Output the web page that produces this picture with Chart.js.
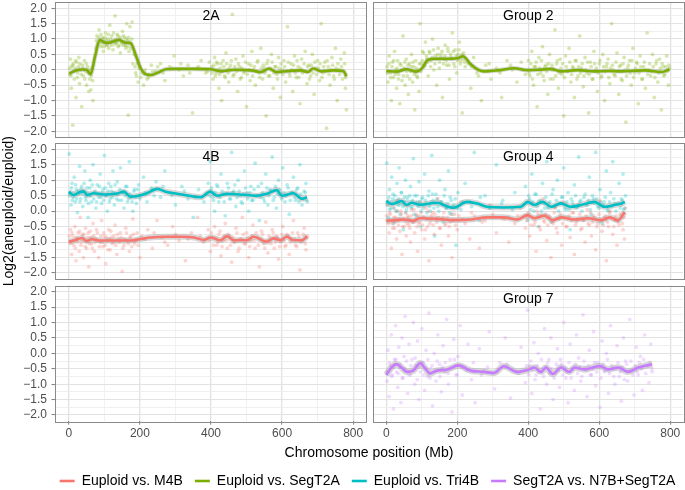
<!DOCTYPE html>
<html><head><meta charset="utf-8">
<script src="https://cdn.jsdelivr.net/npm/chart.js@4.4.1/dist/chart.umd.min.js"></script>
<style>
html,body{margin:0;padding:0;background:#fff;overflow:hidden;width:685px;height:490px;}
canvas{position:absolute;left:0;top:0;width:685px;height:490px;}
</style></head><body>
<canvas id="p1" width="685" height="490"></canvas>
<canvas id="p2" width="685" height="490"></canvas>
<canvas id="p3" width="685" height="490"></canvas>
<canvas id="p4" width="685" height="490"></canvas>
<canvas id="p5" width="685" height="490"></canvas>
<canvas id="p6" width="685" height="490"></canvas>
<canvas id="frame" width="685" height="490"></canvas>
<script>
// ---------- axis definitions ----------
const xMajor = [0, 200, 400, 600, 800];
const xMinor = [100, 300, 500, 700];
const yMajor = [-2, -1.5, -1, -0.5, 0, 0.5, 1, 1.5, 2];
const yMinor = [-1.75, -1.25, -0.75, -0.25, 0.25, 0.75, 1.25, 1.75];
const xLimits = [-39, 836];
const yLimits = [-2.2, 2.2];
const xTitle = 'Chromosome position (Mb)';
const yTitle = 'Log2(aneuploid/euploid)';
const seriesNames = ['Euploid vs. M4B', 'Euploid vs. SegT2A', 'Euploid vs. Tri4B', 'SegT2A vs. N7B+SegT2A'];
const panelLabels = ['2A', 'Group 2', '4B', 'Group 4', '', 'Group 7'];
const labelPos = [400, 1.75];

// ---------- smoothed lines ----------
const line2A_x = [1, 20, 37, 50, 61, 74, 87, 103, 117, 141, 160, 174, 188, 202, 216, 230, 249, 273, 300, 350, 400, 428, 466, 513, 541, 564, 583, 616, 654, 673, 687, 710, 743, 772, 781];
const line2A_y = [-0.12, -0.02, 0.01, 0.0, -0.14, 0.45, 0.97, 0.88, 0.89, 0.97, 0.88, 0.86, 0.48, 0.05, -0.14, -0.17, -0.1, 0.02, 0.03, 0.03, 0.02, -0.05, 0.0, -0.02, -0.07, 0.04, -0.07, -0.04, -0.02, -0.07, 0.04, -0.05, -0.02, -0.04, -0.21];

const lineG2_x = [0, 28, 57, 85, 99, 118, 142, 180, 203, 216, 237, 261, 275, 313, 360, 398, 430, 464, 492, 539, 587, 625, 663, 700, 729, 776, 798];
const lineG2_y = [-0.04, -0.06, 0.02, -0.06, 0.03, 0.33, 0.36, 0.36, 0.38, 0.44, 0.19, -0.01, -0.05, -0.02, 0.05, -0.01, 0.0, 0.03, -0.05, -0.01, -0.05, -0.04, -0.05, -0.03, -0.02, -0.07, 0.02];

const line4Bc_x = [0, 14, 28, 42, 51, 70, 98, 136, 155, 173, 192, 216, 249, 272, 305, 343, 371, 398, 417, 445, 480, 529, 557, 585, 599, 632, 656, 670];
const line4Bc_y = [0.62, 0.52, 0.6, 0.64, 0.52, 0.58, 0.54, 0.57, 0.63, 0.47, 0.49, 0.56, 0.72, 0.63, 0.56, 0.49, 0.45, 0.63, 0.5, 0.56, 0.54, 0.5, 0.56, 0.68, 0.5, 0.58, 0.4, 0.45];

const line4Br_x = [0, 14, 37, 51, 65, 89, 136, 173, 202, 230, 277, 324, 352, 381, 398, 426, 445, 464, 501, 520, 557, 576, 595, 613, 632, 656, 670];
const line4Br_y = [-0.99, -0.95, -0.87, -0.97, -0.91, -0.95, -0.95, -0.95, -0.9, -0.85, -0.83, -0.83, -0.85, -0.93, -0.85, -0.94, -0.81, -0.94, -0.94, -0.83, -0.99, -0.88, -0.94, -0.83, -0.94, -0.94, -0.81];

const lineG4c_x = [0, 14, 28, 43, 57, 71, 95, 142, 175, 189, 227, 256, 284, 331, 379, 398, 417, 441, 464, 492, 520, 549, 587, 615, 643, 663, 672];
const lineG4c_y = [0.33, 0.23, 0.27, 0.33, 0.2, 0.27, 0.21, 0.27, 0.14, 0.11, 0.3, 0.25, 0.14, 0.12, 0.14, 0.3, 0.2, 0.3, 0.14, 0.25, 0.14, 0.2, 0.3, 0.14, 0.2, 0.25, 0.3];

const lineG4r_x = [0, 28, 48, 76, 95, 142, 189, 237, 284, 331, 369, 398, 417, 445, 469, 492, 530, 568, 606, 630, 653, 672];
const lineG4r_y = [-0.31, -0.29, -0.27, -0.31, -0.23, -0.25, -0.29, -0.27, -0.2, -0.2, -0.27, -0.13, -0.23, -0.15, -0.29, -0.2, -0.27, -0.23, -0.29, -0.2, -0.29, -0.03];

const lineG7_x = [0, 14, 28, 43, 57, 76, 95, 109, 123, 142, 170, 203, 237, 275, 303, 331, 369, 398, 417, 436, 450, 469, 492, 516, 530, 558, 601, 625, 653, 681, 710, 749];
const lineG7_y = [-0.7, -0.46, -0.35, -0.46, -0.6, -0.56, -0.32, -0.48, -0.65, -0.56, -0.53, -0.39, -0.56, -0.6, -0.64, -0.42, -0.6, -0.54, -0.46, -0.6, -0.46, -0.67, -0.46, -0.6, -0.46, -0.52, -0.41, -0.52, -0.46, -0.6, -0.46, -0.35];

// ---------- point clouds [position, log2 ratio]: scattered + dense core ----------
const cloud2A = [[3,-0.15],[5,0.35],[7,-0.6],[9,0.1],[11,-1.8],[13,0.2],[15,-0.3],[18,0.05],[20,-0.9],[22,0.25],[25,-0.1],[28,0.4],[30,-0.45],[33,0.0],[36,-1.2],[38,0.15],[41,-0.2],[44,0.3],[47,-0.05],[50,-0.5],[53,0.1],[56,-0.7],[59,-0.3],[62,-0.65],[65,0.05],[68,-1.0],
[76,0.7],[79,1.1],[82,0.85],[85,1.3],[88,0.95],[91,0.75],[94,1.05],[97,0.6],[100,0.9],[103,1.2],[106,0.8],[109,1.0],[112,0.7],[115,1.45],[118,0.9],[121,1.1],[124,0.65],[127,0.95],[130,1.75],[133,0.85],[136,1.15],[139,0.75],[142,1.0],[145,0.55],[148,0.9],[151,1.25],[154,0.8],[157,1.05],[160,0.7],[163,1.5],[166,0.95],[167,-1.47],[169,0.6],[172,1.4],[175,0.85],[178,1.55],[180,0.2],
[184,0.5],[188,-0.1],[192,0.2],[195,-0.4],[198,0.05],[202,-0.25],[206,-0.1],[210,-0.5],[215,0.0],[220,-0.3],[226,-0.15],[232,0.15],
[245,-0.05],[258,0.2],[270,-0.35],[283,0.1],[296,0.45],[310,0.0],[322,-0.2],[335,0.15],[348,-1.4],[360,0.05],[372,0.3],[385,-0.1],[395,0.25],
[402,0.1],[406,-0.3],[410,0.4],[414,-0.1],[418,0.2],[422,-0.6],[426,0.05],[430,-1.0],[434,0.3],[438,-0.2],[442,0.55],[446,0.0],[450,-0.4],[455,0.15],[460,1.8],[465,-0.15],[470,0.35],[475,-0.7],[480,0.1],[485,-0.25],[490,0.45],[495,-0.05],[500,-1.2],[505,0.2],[510,-0.35],[515,0.6],[520,0.0],[525,-0.5],[530,0.25],[535,-0.1],[540,0.7],[545,-0.3],[550,0.05],[555,-1.5],[560,0.3],[565,-0.2],[570,0.5],[575,-0.6],[580,0.1],[585,-0.15],[590,0.4],[595,-0.9],[600,0.0],[605,0.3],[610,-0.4],[615,1.4],[620,-0.1],[625,0.2],[630,-0.7],[635,0.45],[640,-0.25],[645,0.1],[650,-1.1],[655,0.35],[660,-0.05],[665,0.6],[670,-0.45],[675,0.15],[680,-0.2],[685,0.5],[690,-0.8],[695,0.05],[700,0.3],[705,-0.35],[710,1.5],[715,-0.1],[720,0.25],[725,-1.9],[730,0.1],[735,-0.5],[740,0.4],[745,-0.2],[750,0.7],[755,-1.0],[760,0.0],[765,0.35],[770,-0.3],[775,0.55],[778,-0.6],[781,-1.3]];
const core2A = [[2,0.05],[6,-0.2],[10,0.15],[14,-0.05],[19,0.3],[24,-0.25],[27,0.1],[31,0.2],[35,-0.15],[40,0.05],[45,-0.3],[49,0.2],[54,-0.1],[58,0.0],[63,-0.2],[67,-0.35],
[77,0.95],[80,0.8],[84,1.05],[87,0.9],[90,1.15],[93,0.85],[96,1.0],[99,0.75],[102,1.05],[105,0.95],[108,0.8],[111,1.15],[114,0.9],[117,1.0],[120,0.8],[123,0.95],[126,1.2],[129,0.85],[132,1.0],[135,0.9],[138,1.1],[141,0.8],[144,1.05],[147,0.95],[150,0.85],[153,1.1],[156,0.9],[159,0.8],[162,1.0],[165,0.75],[168,1.05],[171,0.9],[174,0.7],[177,1.0],
[186,0.1],[190,-0.2],[200,0.1],[212,-0.15],[224,-0.25],[236,-0.05],
[250,0.1],[265,-0.1],[290,0.05],[315,0.2],[340,-0.1],[365,0.1],[390,-0.05],
[403,-0.1],[408,0.15],[412,-0.2],[416,0.25],[420,0.0],[424,-0.15],[428,0.2],[432,-0.05],[436,0.1],[440,-0.25],[444,0.2],[448,-0.1],[452,0.05],[457,0.3],[462,-0.2],[467,0.1],[472,-0.05],[477,0.2],[482,-0.3],[487,0.05],[492,-0.1],[497,0.25],[502,-0.15],[507,0.0],[512,0.15],[517,-0.2],[522,0.1],[527,-0.05],[532,0.3],[537,-0.25],[542,0.05],[547,0.15],[552,-0.1],[557,0.2],[562,-0.2],[567,0.0],[572,0.25],[577,-0.1],[582,0.1],[587,-0.3],[592,0.05],[597,0.2],[602,-0.15],[607,0.1],[612,-0.05],[617,0.25],[622,-0.2],[627,0.0],[632,0.15],[637,-0.1],[642,0.3],[647,-0.25],[652,0.05],[657,-0.1],[662,0.2],[667,-0.05],[672,0.1],[677,-0.3],[682,0.15],[687,-0.1],[692,0.25],[697,-0.15],[702,0.05],[707,0.2],[712,-0.25],[717,0.1],[722,-0.05],[727,0.3],[732,-0.15],[737,0.0],[742,0.15],[747,-0.3],[752,0.05],[757,0.2],[762,-0.15],[767,0.1],[772,-0.05],[776,0.2],[779,-0.25]];

const cloudG2 = [[2,0.1],[5,-0.4],[8,0.45],[11,-0.1],[14,-1.0],[17,0.25],[20,-0.25],[23,0.6],[26,0.0],[29,-0.6],[32,0.3],[35,-0.15],[38,-1.1],[41,0.15],[44,-0.35],[47,1.1],[50,0.05],[53,-0.5],[56,0.35],[59,-0.2],[62,-0.8],[65,0.2],[68,-0.05],[71,0.5],[74,-0.4],[77,0.1],[80,-1.3],[83,0.3],[86,-0.2],[89,0.0],[92,-0.7],[95,1.5],[98,0.2],
[102,0.6],[106,0.1],[110,0.9],[114,0.35],[118,-0.2],[122,0.55],[126,0.3],[130,1.0],[134,0.0],[138,0.45],[142,-0.5],[146,0.7],[150,0.25],[154,0.5],[158,-0.9],[162,0.35],[166,0.8],[170,0.15],[174,0.6],[178,-0.3],[182,0.4],[186,1.2],[190,0.2],[194,0.65],[198,-0.1],[202,0.5],[206,0.9],[210,0.3],[214,-1.4],[218,0.55],[222,0.1],
[230,0.2],[238,-0.6],[246,0.4],[255,-0.1],[268,-1.0],[280,0.15],[295,-0.3],[310,0.05],[325,-0.9],[340,0.3],[355,0.0],[368,-0.4],[380,0.25],[392,-0.15],
[400,0.3],[405,-0.2],[410,0.6],[415,-0.5],[420,0.1],[425,-1.2],[430,0.4],[435,-0.1],[440,0.75],[445,-0.35],[450,0.15],[455,-0.8],[460,0.5],[465,0.0],[470,-0.3],[475,1.3],[480,0.2],[485,-0.6],[490,0.35],[495,-0.15],[500,-1.5],[505,0.45],[510,-0.05],[515,0.7],[520,-0.4],[525,0.1],[530,-0.9],[535,0.3],[540,-0.2],[545,1.1],[550,0.05],[555,-0.55],[560,0.4],[565,-0.1],[570,-1.4],[575,0.25],[580,-0.3],[585,0.6],[590,-0.05],[595,-0.7],[600,0.2],[605,-0.25],[610,0.5],[615,-1.0],[620,0.1],[625,0.35],[630,-0.45],[635,1.5],[640,0.0],[645,-0.2],[650,0.55],[655,-0.8],[660,0.15],[665,-0.35],[670,0.4],[675,-1.7],[680,0.05],[685,0.3],[690,-0.5],[695,0.7],[700,-0.1],[705,0.25],[710,-1.1],[715,0.45],[720,-0.3],[725,0.1],[730,-0.6],[735,1.2],[740,0.0],[745,-0.2],[750,0.5],[755,-0.9],[760,0.2],[765,-0.4],[770,0.35],[775,-1.3],[780,0.1],[785,-0.15],[790,0.45],[795,-0.5],[798,0.05]];
const coreG2 = [[3,-0.1],[7,0.2],[12,-0.25],[16,0.1],[21,0.3],[25,-0.15],[30,0.05],[34,-0.3],[39,0.2],[43,0.0],[48,-0.2],[52,0.25],[57,-0.05],[61,0.15],[66,-0.3],[70,0.1],[75,0.25],[79,-0.15],[84,0.05],[88,-0.25],[93,0.2],[97,-0.05],
[101,0.3],[105,0.55],[109,0.15],[113,0.45],[117,0.25],[121,0.6],[125,0.1],[129,0.4],[133,0.65],[137,0.2],[141,0.35],[145,0.5],[149,0.05],[153,0.4],[157,0.6],[161,0.2],[165,0.45],[169,0.3],[173,0.7],[177,0.15],[181,0.5],[185,0.35],[189,0.6],[193,0.1],[197,0.45],[201,0.3],[205,0.65],[209,0.2],[213,0.5],[217,0.35],[221,0.25],
[240,0.1],[260,-0.2],[290,0.2],[320,-0.1],[350,0.15],[385,0.0],
[402,-0.1],[407,0.2],[412,-0.3],[417,0.1],[422,0.25],[427,-0.15],[432,0.05],[437,0.3],[442,-0.2],[447,0.1],[452,-0.05],[457,0.2],[462,-0.3],[467,0.15],[472,0.0],[477,-0.2],[482,0.3],[487,-0.1],[492,0.05],[497,0.2],[502,-0.25],[507,0.1],[512,-0.05],[517,0.25],[522,-0.15],[527,0.05],[532,0.3],[537,-0.3],[542,0.1],[547,-0.1],[552,0.2],[557,-0.2],[562,0.0],[567,0.25],[572,-0.15],[577,0.1],[582,-0.3],[587,0.2],[592,0.05],[597,-0.1],[602,0.3],[607,-0.2],[612,0.1],[617,-0.05],[622,0.2],[627,-0.25],[632,0.05],[637,0.15],[642,-0.15],[647,0.25],[652,-0.05],[657,0.1],[662,-0.3],[667,0.2],[672,0.0],[677,-0.2],[682,0.15],[687,-0.1],[692,0.3],[697,-0.25],[702,0.05],[707,0.2],[712,-0.1],[717,0.1],[722,-0.3],[727,0.25],[732,0.0],[737,-0.15],[742,0.2],[747,-0.05],[752,0.1],[757,-0.25],[762,0.3],[767,-0.1],[772,0.05],[777,0.2],[782,-0.2],[787,0.1],[792,-0.05],[796,0.15]];

const cloud4Bc = [[1,1.85],[3,0.6],[6,0.2],[9,0.9],[12,0.45],[15,1.1],[18,0.3],[21,0.7],[24,-0.05],[27,0.55],[30,1.45],[33,0.4],[36,0.8],[39,0.15],[42,0.65],[45,1.3],[48,0.35],[51,0.75],[54,-0.2],[57,0.5],[60,1.0],[64,0.3],[68,1.5],[72,0.6],[76,0.1],[80,0.85],[84,0.45],[88,1.2],[92,0.25],[96,0.7],[100,1.8],[104,0.5],[108,0.0],[112,0.9],[116,0.4],[120,0.65],[124,1.3],[128,0.2],[132,0.55],[136,0.95],[140,0.35],[145,1.4],[150,0.6],[155,0.1],[160,0.8],[165,0.3],[170,1.6],[175,0.45],[180,0.0],[185,0.7],[190,0.25],[196,0.85],[202,0.5],[210,1.1],[220,0.3],[232,0.75],[245,0.95],[258,0.45],[270,1.3],[285,0.6],[300,0.2],[318,0.8],[335,0.4],[350,-0.2],[365,0.7],[380,0.3],[392,0.9],[398,1.6],[404,0.45],[410,0.0],[416,0.85],[422,0.3],[428,1.2],[434,0.55],[440,-0.15],[446,0.9],[452,0.4],[458,1.9],[464,0.65],[470,0.15],[476,1.0],[482,0.5],[488,0.25],[494,1.3],[500,0.6],[506,0.0],[512,0.8],[518,0.35],[524,1.55],[530,0.5],[536,-0.3],[542,0.9],[548,0.4],[554,1.2],[560,0.2],[566,0.7],[572,1.75],[578,0.45],[584,0.1],[590,1.0],[596,0.55],[602,1.4],[608,0.3],[614,0.85],[620,-0.1],[626,0.6],[632,1.1],[638,0.35],[644,0.75],[650,1.5],[656,0.2],[662,0.65],[667,0.9],[671,0.3]];
const core4Bc = [[2,0.5],[7,0.75],[10,0.35],[14,0.6],[19,0.85],[22,0.4],[26,0.65],[31,0.3],[34,0.7],[38,0.55],[43,0.9],[47,0.45],[52,0.6],[55,0.25],[59,0.75],[62,0.5],[66,0.85],[70,0.4],[74,0.65],[78,0.3],[82,0.55],[86,0.8],[90,0.45],[94,0.6],[98,0.35],[102,0.75],[106,0.5],[110,0.65],[114,0.3],[118,0.8],[122,0.45],[126,0.6],[130,0.85],[134,0.4],[138,0.55],[143,0.7],[148,0.35],[153,0.6],[158,0.5],[163,0.8],[168,0.4],[173,0.55],[178,0.3],[183,0.65],[188,0.45],[194,0.7],[200,0.4],
[215,0.6],[240,0.5],[265,0.8],[290,0.5],[325,0.65],[355,0.45],[385,0.55],
[396,0.5],[401,0.75],[407,0.35],[413,0.6],[419,0.8],[425,0.45],[431,0.65],[437,0.3],[443,0.55],[449,0.75],[455,0.4],[461,0.6],[467,0.85],[473,0.45],[479,0.65],[485,0.3],[491,0.55],[497,0.75],[503,0.4],[509,0.6],[515,0.35],[521,0.7],[527,0.5],[533,0.8],[539,0.45],[545,0.6],[551,0.3],[557,0.75],[563,0.5],[569,0.65],[575,0.35],[581,0.8],[587,0.55],[593,0.7],[599,0.4],[605,0.6],[611,0.5],[617,0.75],[623,0.35],[629,0.6],[635,0.45],[641,0.7],[647,0.3],[653,0.55],[659,0.4],[665,0.6],[669,0.35]];

const cloud4Br = [[2,-1.0],[5,-0.6],[8,-1.4],[11,-0.8],[14,-1.1],[17,-0.5],[20,-1.6],[23,-0.9],[26,-0.7],[29,-1.3],[32,-0.2],[35,-1.0],[38,-0.75],[41,-1.5],[44,-0.95],[47,-0.55],[50,-1.2],[53,-0.85],[56,-1.8],[60,-0.65],[64,-1.05],[68,-0.4],[72,-1.3],[76,-0.9],[80,-0.7],[84,-1.5],[88,-1.0],[92,-0.3],[96,-1.15],[100,-0.8],[104,-1.7],[108,-0.95],[112,-0.6],[116,-1.25],[120,-0.85],[125,-1.0],[130,-0.45],[135,-1.4],[140,-0.9],[145,-0.7],[150,-1.95],[155,-1.1],[160,-0.55],[165,-0.95],[170,-1.3],[175,-0.8],[180,-0.25],[185,-1.05],[192,-0.7],[200,-1.5],[210,-0.9],[222,-0.6],[235,-1.2],[248,-0.3],[262,-0.85],[278,-1.1],[292,-0.5],[310,-0.95],[328,-1.6],[345,-0.7],[362,-0.2],[378,-1.0],[392,-0.6],[398,-1.3],[404,-0.85],[410,-0.5],[416,-1.1],[422,-0.75],[428,-1.45],[434,-0.95],[440,-0.4],[446,-1.2],[452,-0.8],[458,-1.65],[464,-1.0],[470,-0.55],[476,-1.3],[482,-0.9],[488,-0.2],[494,-1.05],[500,-0.7],[506,-1.5],[512,-0.95],[518,-0.45],[524,-1.2],[530,-0.85],[536,-1.8],[542,-0.65],[548,-1.05],[554,-0.35],[560,-1.35],[566,-0.9],[572,-0.6],[578,-1.2],[584,-0.8],[590,-1.55],[596,-1.0],[602,-0.5],[608,-1.15],[614,-0.75],[620,-1.4],[626,-0.9],[632,-0.3],[638,-1.1],[644,-0.7],[650,-1.9],[656,-0.95],[662,-0.55],[667,-1.25],[671,-0.8]];
const core4Br = [[1,-0.8],[6,-1.05],[9,-0.7],[13,-0.95],[18,-1.2],[21,-0.85],[25,-1.0],[30,-0.65],[34,-1.1],[37,-0.9],[42,-0.75],[46,-1.15],[51,-0.95],[54,-0.7],[58,-1.05],[62,-0.85],[66,-1.2],[70,-0.8],[74,-1.0],[78,-0.6],[82,-0.95],[86,-1.15],[90,-0.8],[94,-1.0],[98,-0.7],[102,-1.1],[106,-0.85],[110,-1.25],[114,-0.9],[118,-0.65],[122,-1.05],[127,-0.8],[132,-1.1],[137,-0.75],[142,-1.0],[147,-0.85],[152,-1.2],[157,-0.9],[162,-0.7],[167,-1.05],[172,-0.85],[177,-1.15],[182,-0.75],[188,-0.95],[195,-1.1],[205,-0.8],
[215,-0.9],[240,-0.7],[270,-1.0],[300,-0.75],[335,-0.9],[370,-0.8],
[396,-0.95],[401,-0.7],[407,-1.1],[413,-0.85],[419,-1.0],[425,-0.65],[431,-1.15],[437,-0.8],[443,-0.95],[449,-0.75],[455,-1.1],[461,-0.85],[467,-1.0],[473,-0.7],[479,-1.2],[485,-0.9],[491,-0.75],[497,-1.05],[503,-0.85],[509,-1.15],[515,-0.8],[521,-0.95],[527,-0.7],[533,-1.1],[539,-0.9],[545,-0.75],[551,-1.2],[557,-0.95],[563,-0.8],[569,-1.05],[575,-0.7],[581,-1.0],[587,-0.85],[593,-1.15],[599,-0.75],[605,-0.95],[611,-1.1],[617,-0.8],[623,-1.0],[629,-0.7],[635,-0.9],[641,-1.15],[647,-0.8],[653,-1.0],[659,-0.75],[665,-1.05],[669,-0.85]];

const cloudG4c = [[1,1.55],[3,0.3],[6,-0.2],[9,0.7],[12,0.1],[15,1.1],[18,0.4],[21,-0.4],[24,0.5],[27,0.0],[30,0.9],[33,0.2],[36,1.4],[39,-0.1],[42,0.6],[45,0.25],[48,-0.6],[51,0.45],[54,1.0],[57,0.05],[60,0.35],[64,-0.3],[68,0.8],[72,0.15],[76,1.7],[80,0.5],[84,-0.15],[88,0.3],[92,0.95],[96,-0.5],[100,0.4],[104,0.1],[108,1.2],[112,0.25],[116,-0.25],[120,0.65],[124,0.0],[128,1.8],[132,0.35],[136,-0.8],[140,0.55],[145,0.15],[150,1.0],[155,0.3],[160,-0.35],[165,0.7],[170,0.1],[175,1.3],[180,0.45],[185,-0.1],[190,0.2],[196,-1.1],[202,0.6],[210,0.05],[222,0.9],[235,0.3],[248,1.9],[262,-0.3],[278,0.5],[292,0.1],[310,1.5],[328,0.35],[345,-0.2],[362,0.6],[378,0.15],[392,0.8],[398,-0.3],[404,0.4],[410,1.2],[416,0.0],[422,0.55],[428,-0.5],[434,0.3],[440,0.9],[446,0.1],[452,1.6],[458,0.25],[464,-0.35],[470,0.7],[476,0.15],[482,1.0],[488,-0.2],[494,0.45],[500,1.4],[506,0.05],[512,0.6],[518,-0.6],[524,0.3],[530,0.85],[536,0.1],[542,1.75],[548,0.35],[554,-0.25],[560,0.55],[566,0.2],[572,1.1],[578,-0.1],[584,0.4],[590,1.9],[596,0.15],[602,0.7],[608,-0.4],[614,0.3],[620,1.3],[626,0.0],[632,0.6],[638,1.6],[644,0.25],[650,-0.3],[656,0.9],[662,0.4],[667,1.2],[671,0.1],[674,0.5]];
const coreG4c = [[2,0.2],[7,0.45],[10,0.05],[14,0.3],[19,0.55],[22,0.1],[26,0.35],[31,0.0],[34,0.4],[38,0.2],[43,0.6],[47,0.15],[52,0.3],[55,-0.05],[59,0.45],[62,0.2],[66,0.5],[70,0.1],[74,0.35],[78,-0.1],[82,0.25],[86,0.5],[90,0.15],[94,0.3],[98,0.0],[102,0.45],[106,0.2],[110,0.35],[114,-0.05],[118,0.5],[122,0.15],[126,0.3],[130,0.55],[134,0.1],[138,0.25],[143,0.4],[148,0.0],[153,0.3],[158,0.2],[163,0.5],[168,0.1],[173,0.25],[178,-0.05],[183,0.35],[188,0.15],[194,0.4],[200,0.1],
[215,0.3],[240,0.15],[265,0.45],[290,0.1],[325,0.25],[355,0.05],[385,0.2],
[396,0.25],[401,0.5],[407,0.05],[413,0.3],[419,0.55],[425,0.15],[431,0.35],[437,0.0],[443,0.25],[449,0.45],[455,0.1],[461,0.3],[467,0.55],[473,0.15],[479,0.35],[485,0.0],[491,0.25],[497,0.45],[503,0.1],[509,0.3],[515,0.05],[521,0.4],[527,0.2],[533,0.5],[539,0.15],[545,0.3],[551,0.0],[557,0.45],[563,0.2],[569,0.35],[575,0.05],[581,0.5],[587,0.25],[593,0.4],[599,0.1],[605,0.3],[611,0.2],[617,0.45],[623,0.05],[629,0.3],[635,0.15],[641,0.4],[647,0.0],[653,0.25],[659,0.1],[665,0.35],[669,0.05]];

const cloudG4r = [[2,-0.3],[5,0.2],[8,-0.7],[11,-0.1],[14,-1.2],[17,-0.4],[20,0.1],[23,-0.55],[26,-0.2],[29,-0.9],[32,0.35],[35,-0.3],[38,-0.65],[41,0.0],[44,-1.4],[47,-0.25],[50,-0.5],[53,0.2],[56,-0.8],[60,-0.15],[64,-0.45],[68,-1.0],[72,0.05],[76,-0.35],[80,-0.7],[84,-0.1],[88,-1.3],[92,-0.4],[96,0.3],[100,-0.6],[104,-0.2],[108,-0.9],[112,0.1],[116,-0.5],[120,-1.6],[125,-0.3],[130,-0.05],[135,-0.75],[140,-0.25],[145,0.4],[150,-0.55],[155,-1.1],[160,-0.2],[165,-0.45],[170,0.15],[175,-0.8],[180,-0.35],[185,-1.5],[192,-0.1],[200,-0.6],[210,0.3],[222,-0.4],[235,-0.9],[248,-0.15],[262,-1.2],[278,-0.3],[292,0.2],[310,-0.7],[328,-0.25],[345,-1.0],[362,-0.4],[378,0.1],[392,-0.55],[398,-0.2],[404,-0.8],[410,0.25],[416,-0.45],[422,-1.3],[428,-0.1],[434,-0.6],[440,0.4],[446,-0.35],[452,-0.95],[458,-0.15],[464,-1.5],[470,-0.4],[476,0.1],[482,-0.7],[488,-0.25],[494,-1.1],[500,0.3],[506,-0.5],[512,-0.2],[518,-0.85],[524,-0.05],[530,-1.4],[536,-0.35],[542,0.2],[548,-0.6],[554,-0.3],[560,-1.0],[566,0.05],[572,-0.45],[578,-0.8],[584,-0.15],[590,-1.25],[596,-0.4],[602,0.35],[608,-0.65],[614,-0.2],[620,-1.6],[626,-0.5],[632,0.0],[638,-0.75],[644,-0.3],[650,-1.1],[656,-0.45],[662,0.2],[667,-0.6],[671,-0.9],[674,0.1]];
const coreG4r = [[1,-0.15],[6,-0.4],[9,-0.05],[13,-0.3],[18,-0.55],[21,-0.2],[25,-0.35],[30,0.0],[34,-0.45],[37,-0.25],[42,-0.1],[46,-0.5],[51,-0.3],[54,-0.05],[58,-0.4],[62,-0.2],[66,-0.55],[70,-0.15],[74,-0.35],[78,0.05],[82,-0.3],[86,-0.5],[90,-0.15],[94,-0.35],[98,-0.05],[102,-0.45],[106,-0.2],[110,-0.6],[114,-0.25],[118,0.0],[122,-0.4],[127,-0.15],[132,-0.45],[137,-0.1],[142,-0.35],[147,-0.2],[152,-0.55],[157,-0.25],[162,-0.05],[167,-0.4],[172,-0.2],[177,-0.5],[182,-0.1],[188,-0.3],[195,-0.45],[205,-0.15],
[215,-0.25],[240,-0.05],[270,-0.35],[300,-0.1],[335,-0.25],[370,-0.15],
[396,-0.3],[401,-0.05],[407,-0.45],[413,-0.2],[419,-0.35],[425,0.0],[431,-0.5],[437,-0.15],[443,-0.3],[449,-0.1],[455,-0.45],[461,-0.2],[467,-0.35],[473,-0.05],[479,-0.55],[485,-0.25],[491,-0.1],[497,-0.4],[503,-0.2],[509,-0.5],[515,-0.15],[521,-0.3],[527,-0.05],[533,-0.45],[539,-0.25],[545,-0.1],[551,-0.55],[557,-0.3],[563,-0.15],[569,-0.4],[575,-0.05],[581,-0.35],[587,-0.2],[593,-0.5],[599,-0.1],[605,-0.3],[611,-0.45],[617,-0.15],[623,-0.35],[629,-0.05],[635,-0.25],[641,-0.5],[647,-0.15],[653,-0.35],[659,-0.1],[665,-0.4],[669,-0.2]];

const cloudG7 = [[2,-0.9],[5,0.1],[8,-1.4],[11,-0.4],[14,0.6],[17,-0.7],[20,-1.8],[23,-0.2],[26,0.9],[29,-0.6],[32,-1.1],[35,0.2],[38,-0.45],[41,-1.6],[44,0.5],[47,-0.8],[50,-0.1],[53,1.2],[56,-0.55],[60,-1.3],[64,0.3],[68,-0.7],[72,-0.2],[76,1.0],[80,-1.0],[84,-0.4],[88,0.4],[92,-1.5],[96,-0.6],[100,0.8],[104,-0.3],[108,-1.2],[112,0.1],[116,-0.75],[120,1.3],[125,-0.5],[130,-1.7],[135,0.0],[140,-0.9],[145,0.6],[150,-0.35],[155,-1.25],[160,0.25],[165,-0.6],[170,1.1],[175,-1.0],[180,-0.2],[185,-1.9],[190,0.45],[196,-0.7],[202,-0.1],[208,0.9],[214,-1.35],[220,-0.45],[230,0.3],[240,-0.85],[250,-1.6],[262,0.15],[275,-0.55],[290,0.7],[305,-1.15],[320,-0.3],[335,0.5],[350,-1.45],[365,-0.6],[380,0.2],[392,-0.95],[398,1.4],[404,-0.4],[410,-1.3],[416,0.35],[422,-0.7],[428,0.0],[434,-1.8],[440,-0.5],[446,0.8],[452,-1.0],[458,-0.2],[464,0.5],[470,-1.5],[476,-0.65],[482,0.15],[488,-1.1],[494,-0.35],[500,1.0],[506,-0.8],[512,-1.6],[518,0.3],[524,-0.5],[530,-1.2],[536,0.6],[542,-0.15],[548,-0.9],[554,1.25],[560,-0.45],[566,-1.4],[572,0.1],[578,-0.7],[584,0.7],[590,-1.05],[596,-0.3],[602,-1.75],[608,0.4],[614,-0.6],[620,0.0],[626,-1.3],[632,0.9],[638,-0.5],[644,-1.0],[650,0.25],[656,-0.75],[662,-1.55],[668,0.5],[674,-0.25],[680,-0.9],[686,1.1],[692,-0.55],[698,-1.35],[704,0.2],[710,-0.7],[716,-0.1],[722,-1.2],[728,0.6],[734,-0.4],[740,-0.95],[745,0.3],[749,-0.6]];
const coreG7 = [[3,-0.6],[9,-0.3],[15,-0.75],[21,-0.45],[27,-0.2],[33,-0.65],[39,-0.35],[45,-0.8],[51,-0.5],[57,-0.25],[63,-0.7],[69,-0.4],[75,-0.55],[81,-0.15],[87,-0.85],[93,-0.45],[99,-0.3],[105,-0.7],[111,-0.5],[117,-0.2],[123,-0.8],[129,-0.4],[137,-0.6],[143,-0.25],[151,-0.75],[158,-0.45],[166,-0.3],[174,-0.65],[182,-0.5],[192,-0.2],[200,-0.7],[212,-0.4],[226,-0.55],[245,-0.3],[268,-0.7],[285,-0.45],[312,-0.6],[340,-0.35],[372,-0.65],[395,-0.4],[401,-0.7],[407,-0.25],[413,-0.55],[419,-0.85],[425,-0.4],[431,-0.6],[437,-0.2],[443,-0.75],[449,-0.45],[455,-0.3],[461,-0.65],[467,-0.5],[473,-0.8],[479,-0.35],[485,-0.55],[491,-0.2],[497,-0.7],[503,-0.45],[509,-0.6],[515,-0.3],[521,-0.8],[527,-0.5],[533,-0.35],[539,-0.65],[545,-0.45],[551,-0.75],[557,-0.25],[563,-0.55],[569,-0.4],[575,-0.7],[581,-0.5],[587,-0.3],[593,-0.6],[599,-0.45],[605,-0.8],[611,-0.35],[617,-0.55],[623,-0.2],[629,-0.65],[635,-0.4],[641,-0.75],[647,-0.5],[653,-0.3],[659,-0.6],[665,-0.45],[671,-0.85],[677,-0.35],[683,-0.55],[689,-0.25],[695,-0.7],[701,-0.4],[707,-0.6],[713,-0.3],[719,-0.5],[725,-0.2],[731,-0.65],[737,-0.4],[743,-0.3],[748,-0.5]];

// ---------- styles ----------
const FONT = '"Liberation Sans", Arial, Helvetica, sans-serif';
const COLORS = ['#F8766D', '#7CAE00', '#00BFC4', '#C77CFF'];
const PT_ALPHA = ['rgba(248,118,109,0.3)', 'rgba(124,174,0,0.3)', 'rgba(0,191,196,0.3)', 'rgba(199,124,255,0.27)'];
const GRID_MAJOR = '#e2e2e2', GRID_MINOR = '#ededed';

const W = 685, H = 490;
const rows = [[2.1, 137.5], [143.1, 279.2], [285.5, 421.2]];
const cols = [[55, 366], [372.5, 683]];

function pairs(arr) { return arr.map(p => ({x: p[0], y: p[1]})); }
function zipXY(xs, ys) { return xs.map((x, i) => ({x: x, y: ys[i]})); }
function fmtY(v) { return (v < 0 ? '\u2212' : '') + Math.abs(v).toFixed(1); }

function pointSet(cloud, core, ci) {
  return {type: 'scatter', data: pairs(cloud.concat(core)), pointRadius: 1.9, pointBorderWidth: 0,
    backgroundColor: PT_ALPHA[ci], pointBackgroundColor: PT_ALPHA[ci], order: 3};
}
function ribbonSet(xs, ys, w) {
  return {type: 'scatter', data: zipXY(xs, ys), showLine: true, pointRadius: 0,
    borderColor: 'rgba(150,150,150,0.38)', borderWidth: w, cubicInterpolationMode: 'monotone', order: 2};
}
function lineSet(xs, ys, ci) {
  return {type: 'scatter', data: zipXY(xs, ys), showLine: true, pointRadius: 0,
    borderColor: COLORS[ci], borderWidth: 2.6, cubicInterpolationMode: 'monotone', order: 1};
}

const decoPlugin = {
  id: 'deco',
  afterDraw(chart, args, opts) {
    const ctx = chart.ctx, a = chart.chartArea;
    ctx.save();
    if (opts.label) {
      ctx.fillStyle = '#000';
      ctx.font = '14px ' + FONT;
      ctx.textAlign = 'center';
      ctx.textBaseline = 'middle';
      ctx.fillText(opts.label, chart.scales.x.getPixelForValue(labelPos[0]), chart.scales.y.getPixelForValue(labelPos[1]));
    }
    ctx.strokeStyle = '#8a8a8a';
    ctx.lineWidth = 1;
    ctx.strokeRect(Math.round(a.left) + 0.5, Math.round(a.top) + 0.5, Math.round(a.right - a.left), Math.round(a.bottom - a.top));
    ctx.restore();
  }
};

function makePanel(id, row, col, datasets, label, withYTitle) {
  const showY = col === 0, showX = row === 2;
  const yW = 54, xH = 22;
  const [t, b] = rows[row];
  const [l, r] = cols[col];
  const padding = {
    left: showY ? l - yW : l,
    right: W - r,
    top: t,
    bottom: showX ? H - b - xH : H - b
  };
  const xTicks = xMajor.concat(xMinor).sort((p, q) => p - q);
  const yTicks = yMajor.concat(yMinor).sort((p, q) => p - q);
  return new Chart(document.getElementById(id), {
    type: 'scatter',
    data: {datasets: datasets},
    plugins: [decoPlugin],
    options: {
      responsive: false, animation: false, events: [],
      layout: {autoPadding: false, padding: padding},
      plugins: {legend: {display: false}, tooltip: {enabled: false}, deco: {label: label}},
      scales: {
        x: {
          type: 'linear', min: xLimits[0], max: xLimits[1],
          afterBuildTicks: s => { s.ticks = xTicks.map(v => ({value: v})); },
          afterFit: s => { s.height = showX ? xH : 0; s.paddingLeft = 0; s.paddingRight = 0; },
          ticks: {display: showX, autoSkip: false, maxRotation: 0, minRotation: 0, padding: 2,
            color: '#4d4d4d', font: {family: FONT, size: 12},
            callback: v => xMajor.includes(v) ? String(v) : ''},
          grid: {drawTicks: showX, tickLength: 3.5, tickWidth: 1,
            color: c => (c.tick && xMajor.includes(c.tick.value)) ? GRID_MAJOR : GRID_MINOR,
            lineWidth: c => (c.tick && xMajor.includes(c.tick.value)) ? 1.3 : 0.8,
            tickColor: c => (c.tick && xMajor.includes(c.tick.value)) ? '#808080' : 'rgba(0,0,0,0)'},
          border: {display: false}
        },
        y: {
          type: 'linear', min: yLimits[0], max: yLimits[1],
          afterBuildTicks: s => { s.ticks = yTicks.map(v => ({value: v})); },
          afterFit: s => { s.width = showY ? yW : 0; s.paddingTop = 0; s.paddingBottom = 0; },
          title: {display: !!withYTitle, text: yTitle, color: '#000', font: {family: FONT, size: 14}, padding: 0},
          ticks: {display: showY, autoSkip: false, padding: 4.5,
            color: '#4d4d4d', font: {family: FONT, size: 12},
            callback: v => yMajor.includes(v) ? fmtY(v) : ''},
          grid: {drawTicks: showY, tickLength: 3.5, tickWidth: 1,
            color: c => (c.tick && yMajor.includes(c.tick.value)) ? GRID_MAJOR : GRID_MINOR,
            lineWidth: c => (c.tick && yMajor.includes(c.tick.value)) ? 1.1 : 0.9,
            tickColor: c => (c.tick && yMajor.includes(c.tick.value)) ? '#808080' : 'rgba(0,0,0,0)'},
          border: {display: false}
        }
      }
    }
  });
}

makePanel('p1', 0, 0, [lineSet(line2A_x, line2A_y, 1), ribbonSet(line2A_x, line2A_y, 4.5), pointSet(cloud2A, core2A, 1)], panelLabels[0]);
makePanel('p2', 0, 1, [lineSet(lineG2_x, lineG2_y, 1), ribbonSet(lineG2_x, lineG2_y, 4.5), pointSet(cloudG2, coreG2, 1)], panelLabels[1]);
makePanel('p3', 1, 0, [lineSet(line4Bc_x, line4Bc_y, 2), lineSet(line4Br_x, line4Br_y, 0), ribbonSet(line4Bc_x, line4Bc_y, 6), ribbonSet(line4Br_x, line4Br_y, 6), pointSet(cloud4Br, core4Br, 0), pointSet(cloud4Bc, core4Bc, 2)], panelLabels[2], true);
makePanel('p4', 1, 1, [lineSet(lineG4c_x, lineG4c_y, 2), lineSet(lineG4r_x, lineG4r_y, 0), ribbonSet(lineG4c_x, lineG4c_y, 6), ribbonSet(lineG4r_x, lineG4r_y, 6), pointSet(cloudG4r, coreG4r, 0), pointSet(cloudG4c, coreG4c, 2)], panelLabels[3]);
makePanel('p5', 2, 0, [], panelLabels[4]);
makePanel('p6', 2, 1, [lineSet(lineG7_x, lineG7_y, 3), ribbonSet(lineG7_x, lineG7_y, 6.5), pointSet(cloudG7, coreG7, 3)], panelLabels[5]);

// frame chart: shared x title + legend
new Chart(document.getElementById('frame'), {
  type: 'scatter',
  data: {datasets: seriesNames.map((n, i) => ({label: n, data: [], showLine: true, pointRadius: 0,
    borderColor: COLORS[i], backgroundColor: COLORS[i], borderWidth: 2.6,
    pointBorderColor: COLORS[i], pointBorderWidth: 2.6}))},
  options: {
    responsive: false, animation: false, events: [],
    layout: {autoPadding: false, padding: {left: 45, right: -5, top: 2, bottom: -8}},
    scales: {
      x: {type: 'linear', min: 0, max: 1, ticks: {display: false}, grid: {display: false}, border: {display: false},
        title: {display: true, text: xTitle, color: '#000', font: {family: FONT, size: 14}, padding: {top: 0, bottom: 0.6}},
        afterFit: s => { s.height = 30; s.paddingLeft = 0; s.paddingRight = 0; }},
      y: {display: true, min: 0, max: 1, ticks: {display: false}, grid: {display: false}, border: {display: false},
        afterFit: s => { s.width = 8; s.paddingTop = 0; s.paddingBottom = 0; }}
    },
    plugins: {
      tooltip: {enabled: false},
      legend: {display: true, position: 'bottom',
        labels: {usePointStyle: true, pointStyle: 'line', pointStyleWidth: 15, padding: 12,
          color: '#000', font: {family: FONT, size: 14}}}
    }
  }
});
</script>
</body></html>
